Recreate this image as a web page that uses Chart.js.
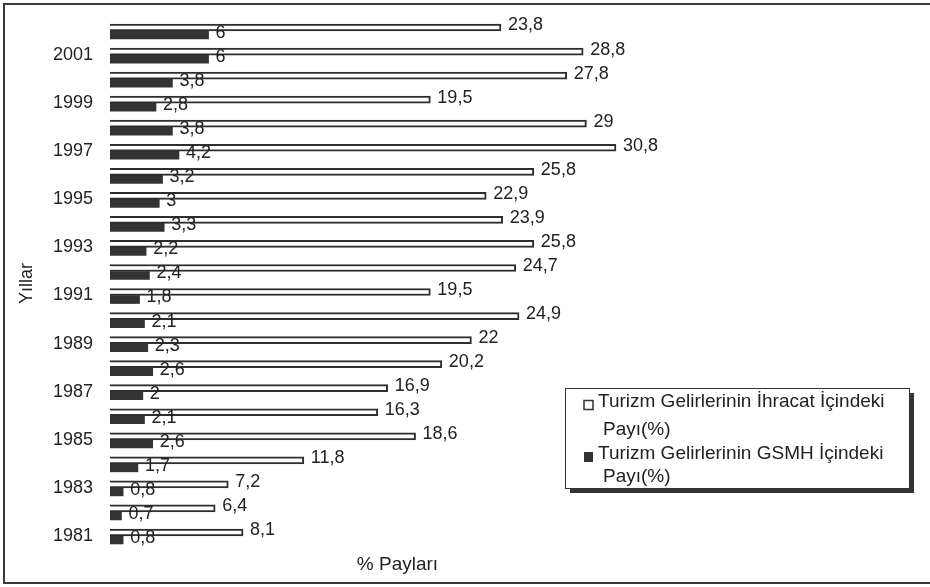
<!DOCTYPE html>
<html>
<head>
<meta charset="utf-8">
<script src="https://cdn.jsdelivr.net/npm/chart.js@4/dist/chart.umd.min.js"></script>
<style>
html,body{margin:0;padding:0;background:#fff;}
canvas{display:block;}
</style>
</head>
<body>
<canvas id="c" width="930" height="587"></canvas>
<script>
// Categories (top to bottom as drawn)
const years = ['2002','2001','2000','1999','1998','1997','1996','1995','1994','1993','1992','1991','1990','1989','1988','1987','1986','1985','1984','1983','1982','1981'];
// Turizm Gelirlerinin İhracat İçindeki Payı (%)
const ihracatPayi = [23.8,28.8,27.8,19.5,29,30.8,25.8,22.9,23.9,25.8,24.7,19.5,24.9,22,20.2,16.9,16.3,18.6,11.8,7.2,6.4,8.1];
// Turizm Gelirlerinin GSMH İçindeki Payı (%)
const gsmhPayi = [6,6,3.8,2.8,3.8,4.2,3.2,3,3.3,2.2,2.4,1.8,2.1,2.3,2.6,2,2.1,2.6,1.7,0.8,0.7,0.8];
const seriesLabels = ['Turizm Gelirlerinin İhracat İçindeki Payı(%)','Turizm Gelirlerinin GSMH İçindeki Payı(%)'];
const xTitle = '% Payları';
const yTitle = 'Yıllar';

const FONT = "'Liberation Sans', Arial, sans-serif";
const INK = '#2e2e2e';

const fmt = v => String(v).replace('.', ',');

const framePlugin = {
  id: 'frame',
  beforeDraw(chart) {
    const ctx = chart.ctx;
    ctx.save();
    ctx.fillStyle = '#fff';
    ctx.fillRect(0, 0, chart.width, chart.height);
    ctx.strokeStyle = '#3a3a3a';
    ctx.lineWidth = 2;
    ctx.beginPath();
    ctx.moveTo(930, 4); ctx.lineTo(4, 4); ctx.lineTo(4, 583); ctx.lineTo(930, 583);
    ctx.stroke();
    ctx.restore();
  }
};

const valueLabels = {
  id: 'valueLabels',
  afterDatasetsDraw(chart) {
    const ctx = chart.ctx;
    ctx.save();
    ctx.font = '18px ' + FONT;
    ctx.fillStyle = '#222';
    ctx.textAlign = 'left';
    ctx.textBaseline = 'middle';
    chart.data.datasets.forEach((ds, di) => {
      const meta = chart.getDatasetMeta(di);
      meta.data.forEach((el, i) => {
        ctx.fillText(fmt(ds.data[i]), el.x + 7, el.y - 2);
      });
    });
    ctx.restore();
  }
};

const boxLegend = {
  id: 'boxLegend',
  afterDraw(chart) {
    const ctx = chart.ctx;
    const L = 565, T = 388, R = 909, B = 488;
    ctx.save();
    ctx.fillStyle = '#333';
    ctx.fillRect(L + 5, T + 5, R - L, B - T);
    ctx.fillStyle = '#fff';
    ctx.fillRect(L, T, R - L, B - T);
    ctx.strokeStyle = '#333';
    ctx.lineWidth = 1;
    ctx.strokeRect(L + 0.5, T + 0.5, R - L, B - T);
    ctx.font = '19px ' + FONT;
    ctx.textBaseline = 'middle';
    ctx.textAlign = 'left';
    const lineYs = [[402, 430], [454, 477]];
    const markYs = [405, 457];
    chart.data.datasets.forEach((ds, di) => {
      const label = ds.label;
      const cut = label.lastIndexOf(' ');
      const lines = [label.slice(0, cut), label.slice(cut + 1)];
      const my = markYs[di];
      if (di === 0) {
        ctx.fillStyle = '#fff';
        ctx.fillRect(584, my - 4.5, 9, 9);
        ctx.strokeStyle = '#333';
        ctx.lineWidth = 1.5;
        ctx.strokeRect(584, my - 4.5, 9, 9);
      } else {
        ctx.fillStyle = '#333';
        ctx.fillRect(584, my - 5, 9, 10);
      }
      ctx.fillStyle = '#222';
      ctx.fillText(lines[0], 598, lineYs[di][0]);
      ctx.fillText(lines[1], 603, lineYs[di][1]);
    });
    ctx.restore();
  }
};

new Chart(document.getElementById('c'), {
  type: 'bar',
  data: {
    labels: years,
    datasets: [
      {
        label: seriesLabels[0],
        data: ihracatPayi,
        backgroundColor: '#ffffff',
        borderColor: INK,
        borderWidth: 2,
        barThickness: 7
      },
      {
        label: seriesLabels[1],
        data: gsmhPayi,
        backgroundColor: '#333333',
        borderWidth: 0,
        barThickness: 8
      }
    ]
  },
  options: {
    indexAxis: 'y',
    responsive: false,
    animation: false,
    devicePixelRatio: 1,
    layout: { padding: { left: 12, right: 245, top: 19, bottom: 7 } },
    plugins: {
      legend: { display: false },
      tooltip: { enabled: false },
      title: { display: false }
    },
    scales: {
      x: {
        min: 0,
        max: 35,
        grid: { display: false },
        border: { display: false },
        ticks: { display: false },
        title: { display: true, text: xTitle, color: '#222', font: { family: FONT, size: 19 } },
        afterFit(scale) { scale.height = 32; scale.paddingLeft = 0; scale.paddingRight = 0; }
      },
      y: {
        grid: { display: false },
        border: { display: false },
        ticks: {
          autoSkip: false,
          padding: 9,
          color: '#222',
          font: { family: FONT, size: 18 },
          callback: (v, i) => (Number(years[i]) % 2 === 1 ? years[i] : '')
        },
        title: { display: true, text: yTitle, color: '#222', font: { family: FONT, size: 18 } },
        afterFit(scale) { scale.width = 98; scale.paddingTop = 0; scale.paddingBottom = 0; }
      }
    }
  },
  plugins: [framePlugin, valueLabels, boxLegend]
});
</script>
</body>
</html>
